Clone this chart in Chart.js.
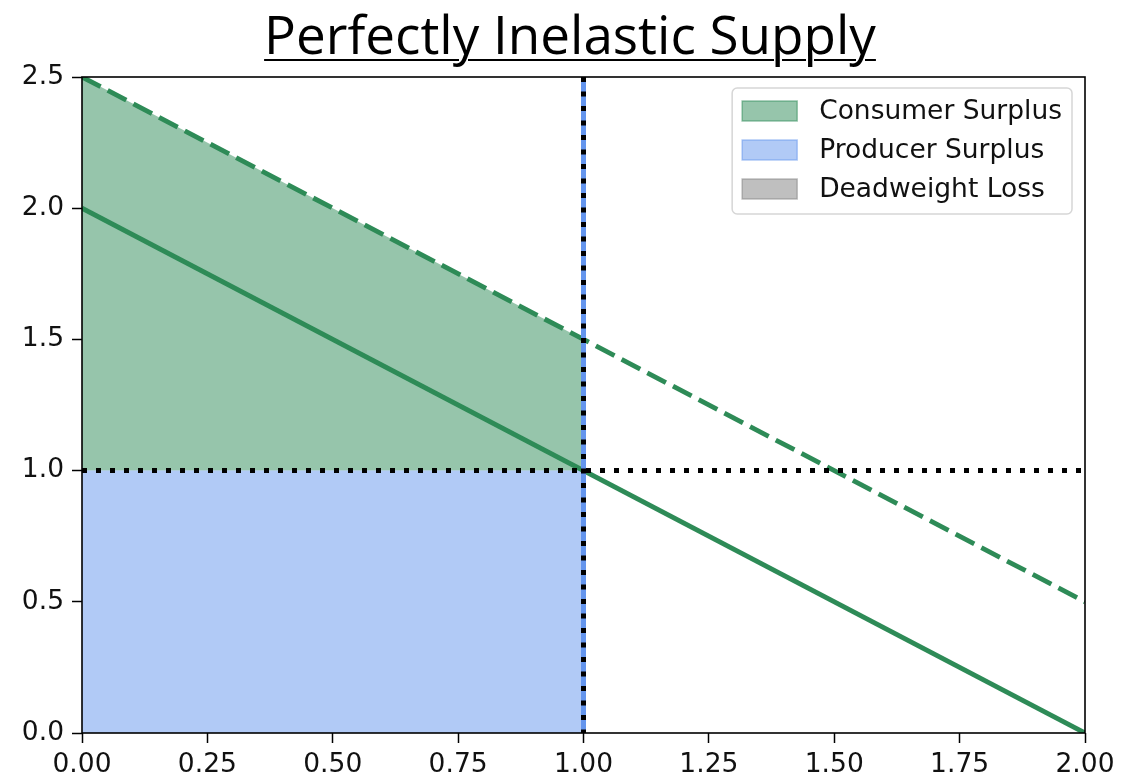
<!DOCTYPE html>
<html>
<head>
<meta charset="utf-8">
<script src="https://cdn.jsdelivr.net/npm/chart.js@4.4.1/dist/chart.umd.min.js"></script>
<style>
  html, body { margin: 0; padding: 0; background: #fff; }
  #wrap { position: relative; width: 1140px; height: 777px; }
  canvas { position: absolute; left: 0; top: 0; }
  #title {
    position: absolute; left: 0; top: 5px; width: 1140px;
    text-align: center; font-family: 'Open Sans', sans-serif; font-weight: 400;
    font-size: 53px; line-height: 1.1; color: #000;
    text-decoration: underline; text-decoration-thickness: 2px; text-underline-offset: 5px;
  }
</style>
</head>
<body>
<div id="wrap">
  <canvas id="c" width="1140" height="777"></canvas>
  <div id="title">Perfectly Inelastic Supply</div>
</div>
<script>
// Market data: quantity on x, price on y
const demandQty = [0, 2];
const demandPrice = [2, 0];            // original demand
const shiftedDemandPrice = [2.5, 0.5]; // demand after the shift (dashed)
const supplyQty = [1, 1];              // perfectly inelastic supply
const supplyPrice = [2.5, 0];
const priceQty = [0, 2];
const priceLevel = [1, 1];             // equilibrium price
const csQty = [0, 1];
const csTop = [2.5, 1.5];              // consumer surplus upper edge
const csBase = 1;
const psQty = [0, 1];
const psTop = [1, 1];                  // producer surplus upper edge
const xTicks = [0, 0.25, 0.5, 0.75, 1, 1.25, 1.5, 1.75, 2];
const yTicks = [0, 0.5, 1, 1.5, 2, 2.5];
const legendLabels = ['Consumer Surplus', 'Producer Surplus', 'Deadweight Loss'];

const GREEN = '#2e8b57';
const BLUE = '#6495ed';
const fillColors = ['rgba(46,139,87,0.5)', 'rgba(100,149,237,0.5)', 'rgba(128,128,128,0.5)'];

const pts = (xs, ys) => xs.map((x, i) => ({ x: x, y: ys[i] }));

const base = { showLine: true, pointRadius: 0, pointHoverRadius: 0, tension: 0, fill: false };

const datasets = [
  Object.assign({}, base, { label: legendLabels[0], data: pts(csQty, csTop), borderWidth: 0,
    borderColor: 'rgba(0,0,0,0)', backgroundColor: fillColors[0], fill: { value: csBase }, order: 10 }),
  Object.assign({}, base, { label: legendLabels[1], data: pts(psQty, psTop), borderWidth: 0,
    borderColor: 'rgba(0,0,0,0)', backgroundColor: fillColors[1], fill: 'origin', order: 9 }),
  Object.assign({}, base, { label: legendLabels[2], data: [], borderWidth: 0,
    backgroundColor: fillColors[2], order: 8 }),
  Object.assign({}, base, { label: 'Demand', data: pts(demandQty, demandPrice),
    borderColor: GREEN, borderWidth: 4.8, order: 5 }),
  Object.assign({}, base, { label: 'Shifted demand', data: pts(demandQty, shiftedDemandPrice),
    borderColor: GREEN, borderWidth: 4.8, borderDash: [21, 8], order: 4 }),
  Object.assign({}, base, { label: 'Supply', data: pts(supplyQty, supplyPrice),
    borderColor: BLUE, borderWidth: 5, order: 3 }),
  Object.assign({}, base, { label: 'Supply marker', data: pts(supplyQty, supplyPrice),
    borderColor: '#000', borderWidth: 5, borderDash: [5, 9.5], order: 2 }),
  Object.assign({}, base, { label: 'Price', data: pts(priceQty, priceLevel),
    borderColor: '#000', borderWidth: 5, borderDash: [5, 9], order: 1 })
];

const TICK_FONT = { family: 'DejaVu Sans', size: 26.5 };

// Frame around the plot area plus an in-plot legend box
const frameAndKey = {
  id: 'frameAndKey',
  afterDraw(chart) {
    const { ctx, chartArea: a } = chart;
    ctx.save();
    ctx.strokeStyle = '#000';
    ctx.lineWidth = 1.6;
    ctx.strokeRect(a.left, a.top, a.right - a.left, a.bottom - a.top);

    ctx.font = '26.5px "DejaVu Sans"';
    const textW = Math.max(...legendLabels.map(t => ctx.measureText(t).width));
    const patchW = 55, patchH = 20, rowH = 39, padL = 10, gap = 22, padR = 10;
    const boxW = padL + patchW + gap + textW + padR;
    const boxH = 126;
    const bx = a.right - 13 - boxW;
    const by = a.top + 11;
    const r = 5;
    ctx.beginPath();
    ctx.moveTo(bx + r, by);
    ctx.arcTo(bx + boxW, by, bx + boxW, by + boxH, r);
    ctx.arcTo(bx + boxW, by + boxH, bx, by + boxH, r);
    ctx.arcTo(bx, by + boxH, bx, by, r);
    ctx.arcTo(bx, by, bx + boxW, by, r);
    ctx.closePath();
    ctx.fillStyle = 'rgba(255,255,255,0.85)';
    ctx.fill();
    ctx.strokeStyle = '#d6d6d6';
    ctx.lineWidth = 1.5;
    ctx.stroke();

    ctx.textBaseline = 'middle';
    ctx.textAlign = 'left';
    legendLabels.forEach((t, i) => {
      const cy = by + 23 + i * rowH;
      const px = bx + padL;
      ctx.fillStyle = fillColors[i];
      ctx.fillRect(px, cy - patchH / 2, patchW, patchH);
      ctx.strokeStyle = fillColors[i];
      ctx.lineWidth = 1.5;
      ctx.strokeRect(px, cy - patchH / 2, patchW, patchH);
      ctx.fillStyle = '#111';
      ctx.fillText(t, px + patchW + gap, cy + 1);
    });
    ctx.restore();
  }
};

new Chart(document.getElementById('c'), {
  type: 'scatter',
  data: { datasets: datasets },
  plugins: [frameAndKey],
  options: {
    responsive: false,
    animation: false,
    devicePixelRatio: 1,
    layout: { padding: { left: 0, top: 77, right: 55, bottom: 0 } },
    plugins: { legend: { display: false }, tooltip: { enabled: false }, title: { display: false } },
    scales: {
      x: {
        type: 'linear', min: 0, max: 2,
        afterBuildTicks(s) { s.ticks = xTicks.map(v => ({ value: v })); },
        afterFit(s) { s.height = 44; },
        grid: { display: true, drawOnChartArea: false, drawTicks: true, tickLength: 10, tickWidth: 1.5, tickColor: '#000' },
        border: { display: false },
        ticks: { font: TICK_FONT, color: '#111', padding: 6, maxRotation: 0, autoSkip: false,
          callback: v => Number(v).toFixed(2) }
      },
      y: {
        type: 'linear', min: 0, max: 2.5,
        afterBuildTicks(s) { s.ticks = yTicks.map(v => ({ value: v })); },
        afterFit(s) { s.width = 82; },
        grid: { display: true, drawOnChartArea: false, drawTicks: true, tickLength: 10, tickWidth: 1.5, tickColor: '#000' },
        border: { display: false },
        ticks: { font: TICK_FONT, color: '#111', padding: 8, autoSkip: false,
          callback: v => Number(v).toFixed(1) }
      }
    }
  }
});
</script>
</body>
</html>
